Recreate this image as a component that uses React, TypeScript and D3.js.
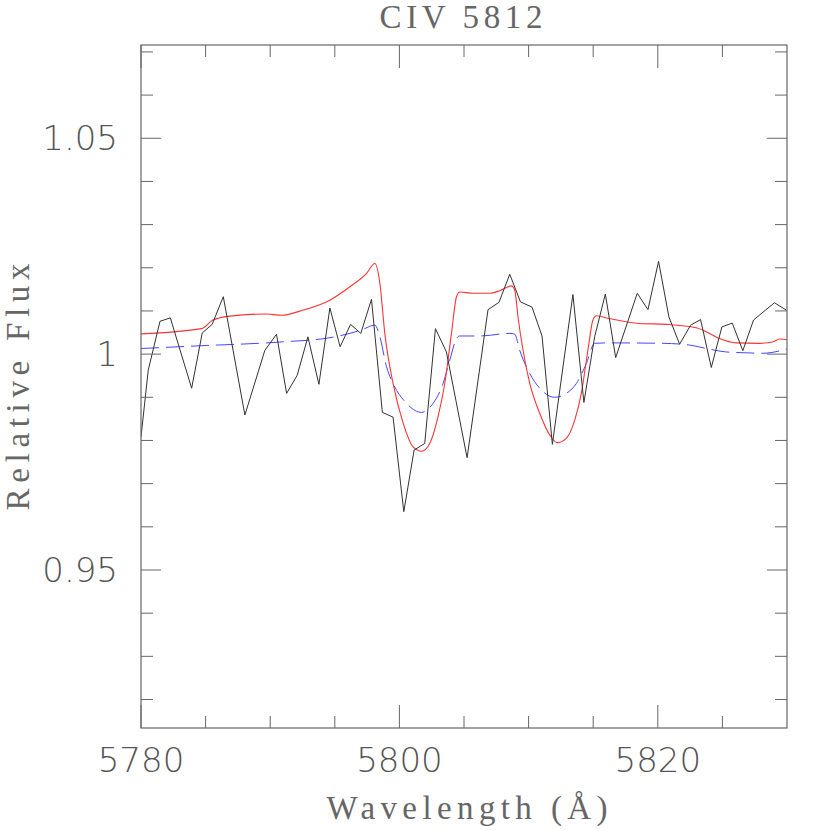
import React, { useEffect } from "react";
import * as d3 from "d3";

// observed spectrum (black)
const obsWave = [
  5780.0, 5780.56, 5781.47, 5782.27, 5783.92, 5784.74, 5785.51, 5786.37, 5788.04, 5789.59,
  5790.49, 5791.27, 5792.09, 5792.92, 5793.77, 5794.62, 5795.41, 5796.22, 5797.01, 5797.84,
  5798.68, 5799.51, 5800.34, 5801.14, 5801.96, 5802.79, 5803.64, 5805.24, 5806.86, 5807.71,
  5808.54, 5809.37, 5810.26, 5811.04, 5811.84, 5813.43, 5814.28, 5815.11, 5815.94, 5816.74,
  5818.41, 5819.24, 5820.06, 5820.86, 5821.69, 5822.54, 5823.31, 5824.14, 5824.96, 5825.76,
  5826.58, 5827.41, 5829.03, 5829.94,
];
const obsFlux = [
  0.9808, 0.9963, 1.0076, 1.0084, 0.9921, 1.0049, 1.0069, 1.0133, 0.9859, 1.0009,
  1.0046, 0.9909, 0.9951, 1.004, 0.993, 1.0107, 1.0017, 1.0069, 1.0048, 1.0127,
  0.9865, 0.9854, 0.9635, 0.9778, 0.9793, 1.0059, 1.0005, 0.976, 1.0103, 1.012,
  1.0185, 1.0121, 1.0109, 1.0042, 0.9791, 1.0138, 0.9888, 1.004, 1.0139, 0.9992,
  1.0141, 1.0103, 1.0215, 1.0086, 1.0023, 1.0067, 1.008, 0.9969, 1.0063, 1.0072,
  1.0008, 1.0079, 1.0119, 1.0102,
];

// model 1 (red, solid)
const redWave = [
  5780.0, 5784.69, 5785.57, 5786.88, 5789.72, 5790.88, 5792.55, 5794.62, 5796.17, 5797.46,
  5798.1, 5798.49, 5798.87, 5799.51, 5800.29, 5801.06, 5801.71, 5802.35, 5802.99, 5803.51,
  5804.03, 5804.42, 5804.67, 5805.7, 5806.99, 5807.77, 5808.67, 5808.93, 5809.18, 5809.57,
  5810.09, 5810.86, 5811.63, 5812.2, 5812.92, 5813.57, 5814.08, 5814.59, 5814.98, 5815.24,
  5816.14, 5818.59, 5820.66, 5822.98, 5823.75, 5824.78, 5826.07, 5827.87, 5828.9, 5829.42,
  5830.0,
];
const redFlux = [
  1.0047, 1.0059, 1.0079, 1.0088, 1.0093, 1.009, 1.0102, 1.0125, 1.0156, 1.0187,
  1.021, 1.0164, 1.0048, 0.9932, 0.984, 0.9785, 0.9775, 0.9793, 0.9855, 0.9932,
  1.0048, 1.0133, 1.0144, 1.0141, 1.0141, 1.0147, 1.0158, 1.0148, 1.0086, 1.0009,
  0.9932, 0.9863, 0.9813, 0.9795, 0.9805, 0.9847, 0.9909, 1.0009, 1.0079, 1.0089,
  1.0083, 1.0071, 1.0069, 1.0061, 1.0052, 1.0036, 1.0026, 1.0025, 1.0028, 1.0035,
  1.0034,
];

// model 2 (blue, dashed)
const blueWave = [
  5780.0, 5784.31, 5790.75, 5794.62, 5797.07, 5798.1, 5798.49, 5799.0, 5799.51, 5800.55,
  5801.71, 5802.61, 5803.38, 5803.9, 5804.42, 5804.67, 5806.22, 5808.54, 5808.93, 5809.31,
  5810.09, 5810.99, 5812.02, 5812.92, 5813.7, 5814.47, 5815.11, 5816.14, 5820.4, 5822.46,
  5823.75, 5825.3, 5826.84, 5828.13, 5830.0,
];
const blueFlux = [
  1.0013, 1.0019, 1.0028, 1.0038, 1.0056, 1.0067, 1.004, 0.9971, 0.9932, 0.9886,
  0.9865, 0.9886, 0.9932, 0.9986, 1.0036, 1.0042, 1.0042, 1.0048, 1.0046, 1.0009,
  0.9955, 0.9917, 0.99, 0.9909, 0.9932, 0.9978, 1.0025, 1.0026, 1.0025, 1.0021,
  1.0013, 1.0005, 1.0003, 1.0002, 1.0012,
];

const xLabels = [5780, 5800, 5820];
const yLabels = [0.95, 1, 1.05];

const W = 830;
const H = 830;
const left = 141, right = 787, top = 45, bottom = 728;

export default function App() {
  useEffect(() => {
    document.body.style.margin = "0";
  }, []);

  const x = d3.scaleLinear().domain([5780, 5830]).range([left, right]);
  const y = d3.scaleLinear().domain([0.9134, 1.0716]).range([bottom, top]);

  const pts = (w: number[], f: number[]) => w.map((d, i) => [d, f[i]] as [number, number]);

  const lin = d3.line<[number, number]>().x((d) => x(d[0])).y((d) => y(d[1]));
  const smooth = d3
    .line<[number, number]>()
    .x((d) => x(d[0]))
    .y((d) => y(d[1]))
    .curve(d3.curveMonotoneX);

  const xMinor = d3.range(5785, 5830, 5).filter((v) => !xLabels.includes(v));
  const yMinor = d3.range(92, 108).map((v) => v / 100).filter((v) => !yLabels.some((l) => Math.abs(l - v) < 1e-6));

  const axisCol = "#666";
  const textCol = "#555";
  const tickFont = "'DejaVu Sans', sans-serif";
  const labelFont = "'Liberation Serif', serif";

  return (
    <svg width={W} height={H} style={{ position: "absolute", left: 0, top: 0, background: "#fff" }}>
      <defs>
        <clipPath id="plot">
          <rect x={left} y={top} width={right - left} height={bottom - top} />
        </clipPath>
      </defs>
      <rect x={0} y={0} width={W} height={H} fill="#fff" />

      <g clipPath="url(#plot)" fill="none">
        <path d={smooth(pts(blueWave, blueFlux)) || ""} stroke="#4646ff" strokeWidth={1} strokeDasharray="18 7" />
        <path d={smooth(pts(redWave, redFlux)) || ""} stroke="#ff3333" strokeWidth={1.1} />
        <path d={lin(pts(obsWave, obsFlux)) || ""} stroke="#333" strokeWidth={1} />
      </g>

      {/* box */}
      <rect x={left} y={top} width={right - left} height={bottom - top} fill="none" stroke={axisCol} strokeWidth={1.2} />

      {/* x ticks, bottom and top; y ticks, left and right */}
      <g stroke={axisCol} strokeWidth={1}>
        {xMinor.map((v) => (
          <g key={"xm" + v}>
            <line x1={x(v)} x2={x(v)} y1={bottom} y2={bottom - 12} />
            <line x1={x(v)} x2={x(v)} y1={top} y2={top + 12} />
          </g>
        ))}
        {xLabels.map((v) => (
          <g key={"xM" + v}>
            <line x1={x(v)} x2={x(v)} y1={bottom} y2={bottom - 23} />
            <line x1={x(v)} x2={x(v)} y1={top} y2={top + 23} />
          </g>
        ))}
        {yMinor.map((v) => (
          <g key={"ym" + v}>
            <line x1={left} x2={left + 12} y1={y(v)} y2={y(v)} />
            <line x1={right} x2={right - 12} y1={y(v)} y2={y(v)} />
          </g>
        ))}
        {yLabels.map((v) => (
          <g key={"yM" + v}>
            <line x1={left} x2={left + 20} y1={y(v)} y2={y(v)} />
            <line x1={right} x2={right - 20} y1={y(v)} y2={y(v)} />
          </g>
        ))}
      </g>

      {/* tick labels */}
      <g fill={textCol} fontFamily={tickFont} fontWeight={200} fontSize={34}>
        {xLabels.map((v) => (
          <text key={"xl" + v} x={x(v)} y={772} textAnchor="middle">
            {v}
          </text>
        ))}
        {yLabels.map((v) => (
          <text key={"yl" + v} x={118} y={y(v) + 12} textAnchor="end">
            {v === 1 ? "1" : String(v)}
          </text>
        ))}
      </g>

      {/* titles */}
      <g fill="#666" fontFamily={labelFont} fontSize={33}>
        <text x={461} y={28} textAnchor="middle" textLength={163} lengthAdjust="spacing">
          CIV 5812
        </text>
        <text x={467} y={819} textAnchor="middle" textLength={281} lengthAdjust="spacing">
          Wavelength (Å)
        </text>
        <text
          transform="translate(29,387) rotate(-90)"
          textAnchor="middle"
          textLength={247}
          lengthAdjust="spacing"
        >
          Relative Flux
        </text>
      </g>
    </svg>
  );
}
